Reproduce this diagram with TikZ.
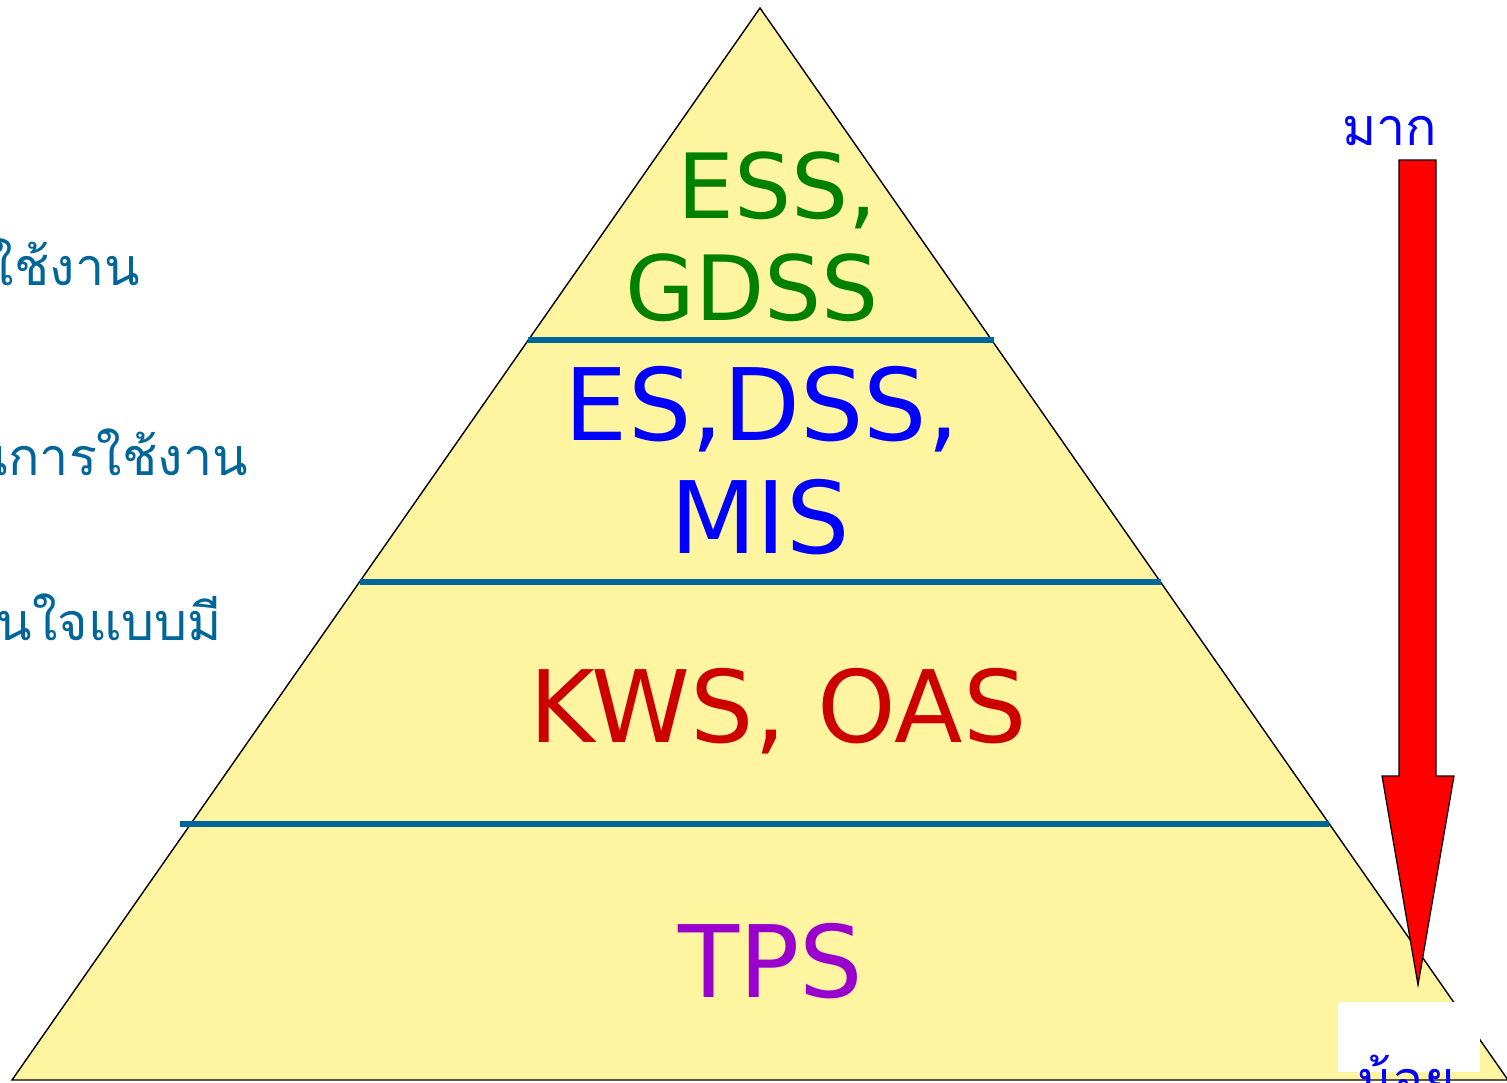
\documentclass[tikz,border=0pt]{standalone}
\usepackage{fontspec}
\setmainfont{DejaVu Sans}
\newfontfamily\thaifont[Script=Thai]{Loma}
\definecolor{pyrfill}{RGB}{255,245,160}
\definecolor{bandline}{RGB}{0,102,153}
\definecolor{essgreen}{RGB}{0,128,0}
\definecolor{kwsred}{RGB}{204,0,0}
\definecolor{tpspurple}{RGB}{153,0,204}
\tikzset{
    level/.style={font=\fontsize{#1}{#1}\selectfont, anchor=base, inner sep=0pt},
    thaitext/.style={font=\thaifont\fontsize{#1}{#1}\selectfont, inner sep=0pt},
    band/.style={draw=bandline, line width=6pt},
  }

\begin{document}
\begin{tikzpicture}[x=1pt,y=-1pt]
				  \useasboundingbox (0,0) rectangle (1507,1082);
				  
				  %PYRAMIDE
				  \coordinate (S) at (760,8);
				  \coordinate (L) at (12,1080);
				  \coordinate (R) at (1508,1080);
				  \filldraw[fill=pyrfill, draw=black, line width=1.4pt] (S) -- (L) -- (R) -- cycle;
				  
				  %BANDES
				  \coordinate (b1l) at (528,340);  \coordinate (b1r) at (994,340);
				  \coordinate (b2l) at (360,582);  \coordinate (b2r) at (1161,582);
				  \coordinate (b3l) at (180,824);  \coordinate (b3r) at (1329,824);
				  \draw[band] (b1l) -- (b1r);
				  \draw[band] (b2l) -- (b2r);
				  \draw[band] (b3l) -- (b3r);
				  
				  %NIVEAUX
				  \node[level=90, text=essgreen] (ess) at (777,218) {ESS,};
				  \node[level=90, text=essgreen] (gdss) at (752,320) {GDSS};
				  \node[level=100, text=blue] (dss) at (762,440) {ES,DSS,};
				  \node[level=100, text=blue] (mis) at (760,553) {MIS};
				  \node[level=100, text=kwsred] (kws) at (778,742) {KWS, OAS};
				  \node[level=100, text=tpspurple] (tps) at (771,997) {TPS};
				  
				  %TEXTES A GAUCHE
				  \node[thaitext=52, text=bandline, anchor=base east] (use1) at (140,285) {ใช้งาน};
				  \node[thaitext=52, text=bandline, anchor=base east] (use2) at (248,475) {นการใช้งาน};
				  \node[thaitext=52, text=bandline, anchor=base east] (use3) at (222,640) {นใจแบบมี};
				  
				  %FLECHE
				  \filldraw[fill=red, draw=black, line width=1.2pt]
				    (1399,160) -- (1436,160) -- (1436,776) -- (1454,776) -- (1418,985)
				    -- (1382,776) -- (1399,776) -- cycle;
				  \node[thaitext=52, text=blue, anchor=base west] (many) at (1342,145) {มาก};
				  \fill[white] (1338,1002) rectangle (1480,1072);
				  \node[thaitext=52, text=blue, anchor=base west] (few) at (1357,1098) {น้อย};
				  
				  \end{tikzpicture}
\end{document}
